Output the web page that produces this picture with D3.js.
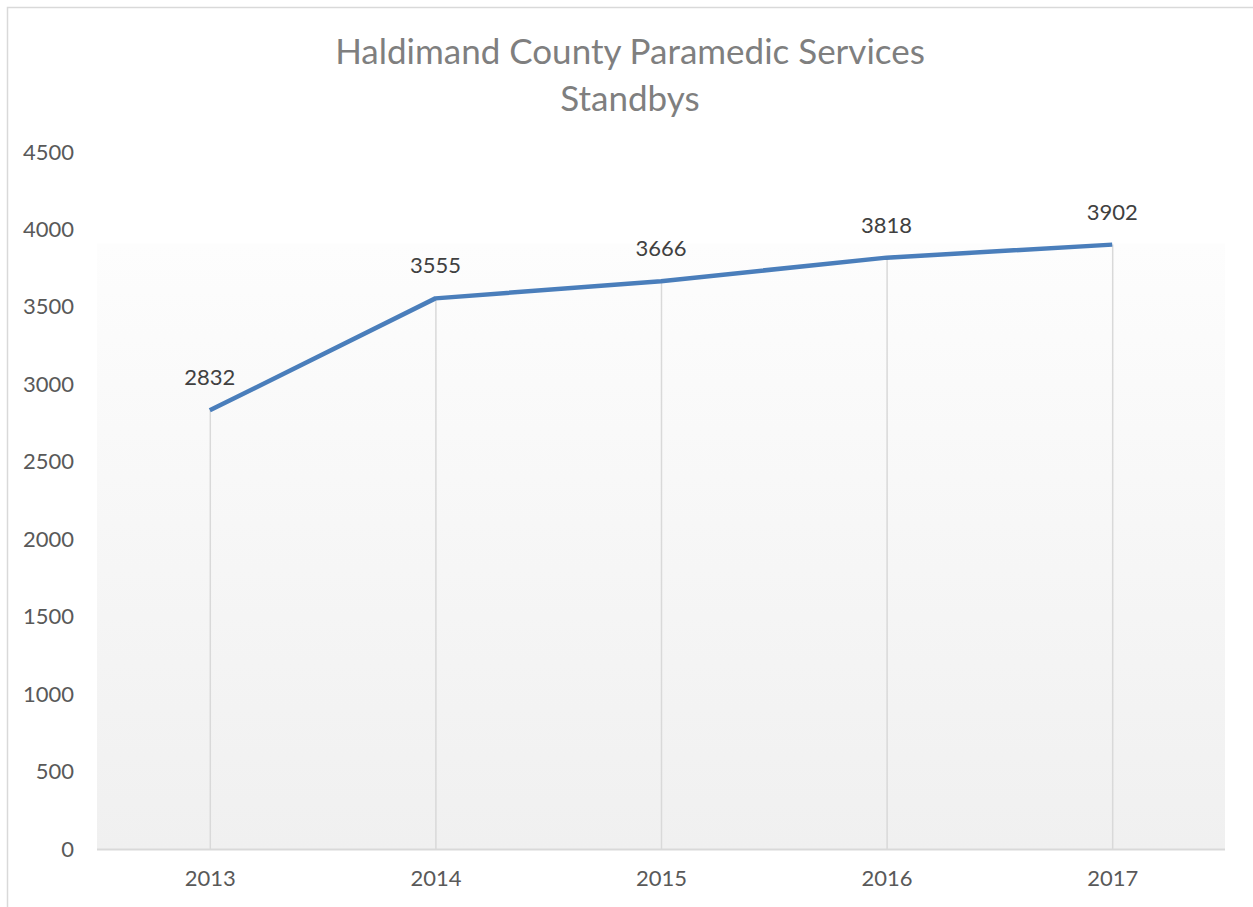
<!DOCTYPE html>
<html>
<head>
<meta charset="utf-8">
<script src="https://cdn.jsdelivr.net/npm/d3@7"></script>
<style>
  html, body { margin: 0; padding: 0; background: #fff; }
  svg { display: block; }
</style>
</head>
<body>
<div id="chart"></div>
<script>
// Dados do gráfico
const years = ['2013', '2014', '2015', '2016', '2017'];
const standbys = [2832, 3555, 3666, 3818, 3902];
const yTicks = [0, 500, 1000, 1500, 2000, 2500, 3000, 3500, 4000, 4500];
const titleLines = ['Haldimand County Paramedic Services', 'Standbys'];

const width = 1253, height = 907;
const margin = { top: 152, right: 28, bottom: 58, left: 97 };
const font = 'Lato, "Open Sans", sans-serif';

const svg = d3.select('#chart')
    .append('svg')
    .attr('width', width)
    .attr('height', height);

// Borda do gráfico
svg.append('path')
    .attr('d', `M7.5,${height} V7.5 H${width}`)
    .attr('fill', 'none')
    .attr('stroke', '#d9d9d9')
    .attr('stroke-width', 1.5);

// Gradiente do fundo
const grad = svg.append('defs').append('linearGradient')
    .attr('id', 'bg')
    .attr('x1', 0).attr('y1', 0).attr('x2', 0).attr('y2', 1);
grad.append('stop').attr('offset', '0%').attr('stop-color', '#fdfdfd');
grad.append('stop').attr('offset', '100%').attr('stop-color', '#f0f0f0');

const x = d3.scalePoint()
    .domain(years)
    .range([margin.left, width - margin.right])
    .padding(0.5);

const y = d3.scaleLinear()
    .domain([0, 4500])
    .range([height - margin.bottom, margin.top]);

// Fundo da área do gráfico
svg.append('rect')
    .attr('x', margin.left)
    .attr('y', y(d3.max(standbys)) - 1)
    .attr('width', width - margin.right - margin.left)
    .attr('height', y(0) - y(d3.max(standbys)) + 1)
    .attr('fill', 'url(#bg)');

// Linhas de queda
svg.selectAll('line.drop')
    .data(standbys)
    .enter()
    .append('line')
    .attr('class', 'drop')
    .attr('x1', (d, i) => x(years[i]) + 0.5)
    .attr('x2', (d, i) => x(years[i]) + 0.5)
    .attr('y1', d => y(d))
    .attr('y2', y(0))
    .attr('stroke', '#d9d9d9')
    .attr('stroke-width', 1.5);

// Eixo X
const xAxis = svg.append('g')
    .attr('transform', `translate(0,${y(0)})`)
    .call(d3.axisBottom(x).tickSize(0).tickPadding(21));
xAxis.select('.domain')
    .attr('d', `M${margin.left},0.5H${width - margin.right}`)
    .attr('stroke', '#d9d9d9')
    .attr('stroke-width', 2);
xAxis.selectAll('text')
    .attr('font-family', font)
    .attr('font-size', 22)
    .attr('fill', '#595959');

// Eixo Y
const yAxis = svg.append('g')
    .attr('transform', 'translate(74,0)')
    .call(d3.axisLeft(y).tickValues(yTicks).tickFormat(d3.format('d')).tickSize(0).tickPadding(0));
yAxis.select('.domain').remove();
yAxis.selectAll('text')
    .attr('font-family', font)
    .attr('font-size', 22)
    .attr('fill', '#595959');

// Linha
const line = d3.line()
    .x((d, i) => x(years[i]))
    .y(d => y(d));

svg.append('path')
    .datum(standbys)
    .attr('d', line)
    .attr('fill', 'none')
    .attr('stroke', '#4a7ebb')
    .attr('stroke-width', 4.5)
    .attr('stroke-linejoin', 'round');

// Rótulos de dados
svg.selectAll('text.label')
    .data(standbys)
    .enter()
    .append('text')
    .attr('class', 'label')
    .attr('x', (d, i) => x(years[i]))
    .attr('y', d => y(d) - 25)
    .attr('text-anchor', 'middle')
    .attr('font-family', font)
    .attr('font-size', 22)
    .attr('fill', '#404040')
    .text(d => d);

// Título
svg.append('g')
    .selectAll('text')
    .data(titleLines)
    .enter()
    .append('text')
    .attr('x', 630)
    .attr('y', (d, i) => 64 + i * 47)
    .attr('text-anchor', 'middle')
    .attr('font-family', font)
    .attr('font-size', 35)
    .attr('fill', '#7f7f7f')
    .text(d => d);
</script>
</body>
</html>
